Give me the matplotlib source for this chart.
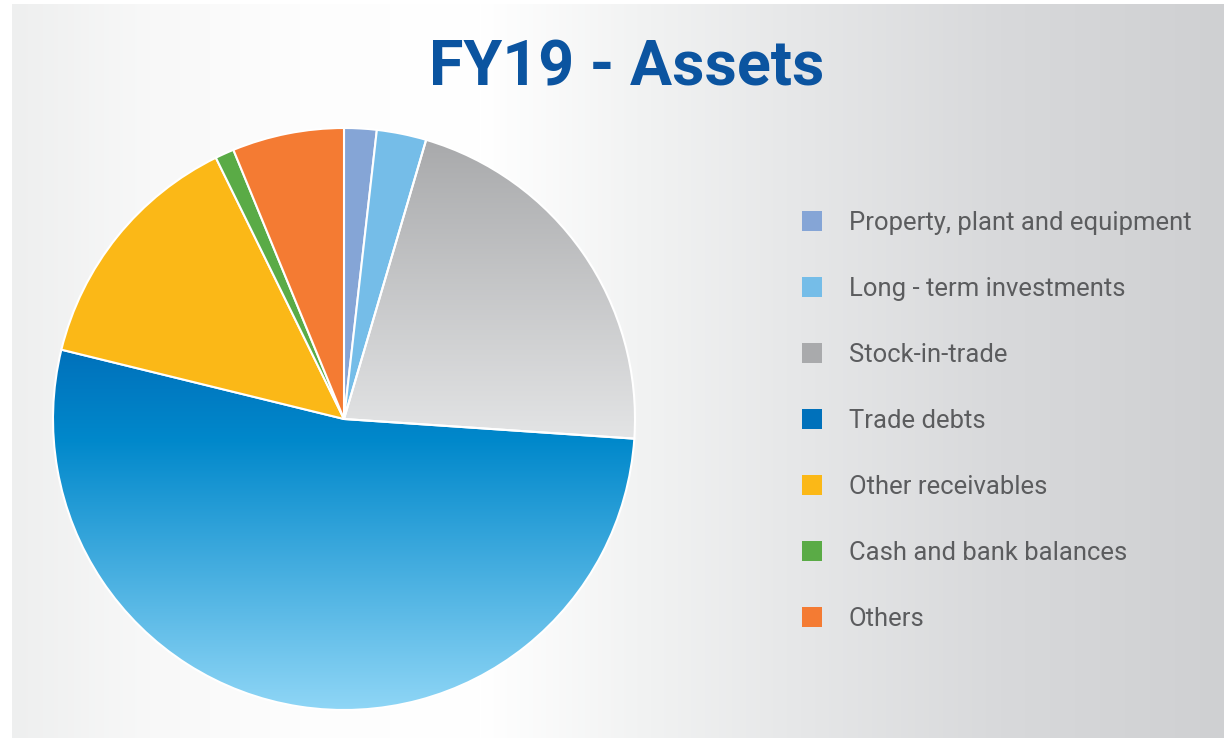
import numpy as np
import matplotlib.pyplot as plt
from matplotlib.colors import LinearSegmentedColormap, to_rgb
from matplotlib.patches import Rectangle

# FY19 asset mix (% of total)
labels = ['Property, plant and equipment', 'Long - term investments', 'Stock-in-trade',
          'Trade debts', 'Other receivables', 'Cash and bank balances', 'Others']
values = [1.8, 2.75, 21.5, 52.7, 13.9, 1.05, 6.2]
colors = ['#85a5d6', '#75bde8', '#a9aaac', '#0071bb', '#fbb817', '#5aab46', '#f47b33']

W, H = 1224, 739
fig = plt.figure(figsize=(W / 100, H / 100), dpi=100)
fig.patch.set_facecolor('white')

# panel background: light grey -> white -> grey, left to right
bg = fig.add_axes([12 / W, 1 / H, (W - 12) / W, 734 / H])
bg.set_axis_off()
px = np.array([12, 150, 300, 480, 650, 800, 1000, 1224])
pc = np.array([to_rgb(c) for c in ['#eeefef', '#f8f8f8', '#fdfdfd', '#ffffff',
                                    '#f1f2f2', '#e6e7e8', '#d8d9db', '#cfd0d2']])
xs = np.arange(12, 1224)
row = np.stack([np.interp(xs, px, pc[:, i]) for i in range(3)], axis=-1)
bg.imshow(row[np.newaxis, :, :], aspect='auto', extent=(0, 1, 0, 1))
bg.set_xlim(0, 1)
bg.set_ylim(0, 1)

# pie
cx, cy, r = 344, 419, 291
ax = fig.add_axes([(cx - r) / W, (H - cy - r) / H, 2 * r / W, 2 * r / H])
wedges, _ = ax.pie(values, colors=colors, startangle=90, counterclock=False,
                   wedgeprops=dict(edgecolor='white', linewidth=1.5))


def fill_gradient(wedge, top, bottom, stops):
    cmap = LinearSegmentedColormap.from_list('grad', stops)
    grad = np.linspace(0, 1, 256).reshape(-1, 1)
    im = ax.imshow(grad, cmap=cmap, extent=(-1, 1, bottom, top), origin='upper',
                   aspect='auto', zorder=wedge.get_zorder() - 0.1)
    im.set_clip_path(wedge)
    wedge.set_facecolor('none')


fill_gradient(wedges[2], 1.0, -0.08, ['#a6a7a9', '#e4e5e6'])
fill_gradient(wedges[3], 0.24, -1.0, [(0, '#0071bb'), (0.25, '#0088cb'), (1, '#8fd6f6')])

ax.set_xlim(-1, 1)
ax.set_ylim(-1, 1)
ax.set_aspect('equal')
ax.set_axis_off()

# title
fig.text(627 / W, (H - 85) / H, 'FY19 - Assets', fontsize=45.2, fontweight='bold',
         family='Roboto', color='#0b54a0', ha='center', va='baseline')

# legend
for i, (lab, col) in enumerate(zip(labels, colors)):
    yc = 220.7 + 66 * i
    fig.add_artist(Rectangle((802 / W, (H - yc - 10) / H), 20 / W, 20 / H,
                             transform=fig.transFigure, facecolor=col, edgecolor='none'))
    fig.text(849 / W, (H - yc - 9.5) / H, lab, fontsize=18.45, family='Roboto',
             color='#5b5c5e', va='baseline')

fig.savefig('out.png', dpi=100)
plt.close(fig)
